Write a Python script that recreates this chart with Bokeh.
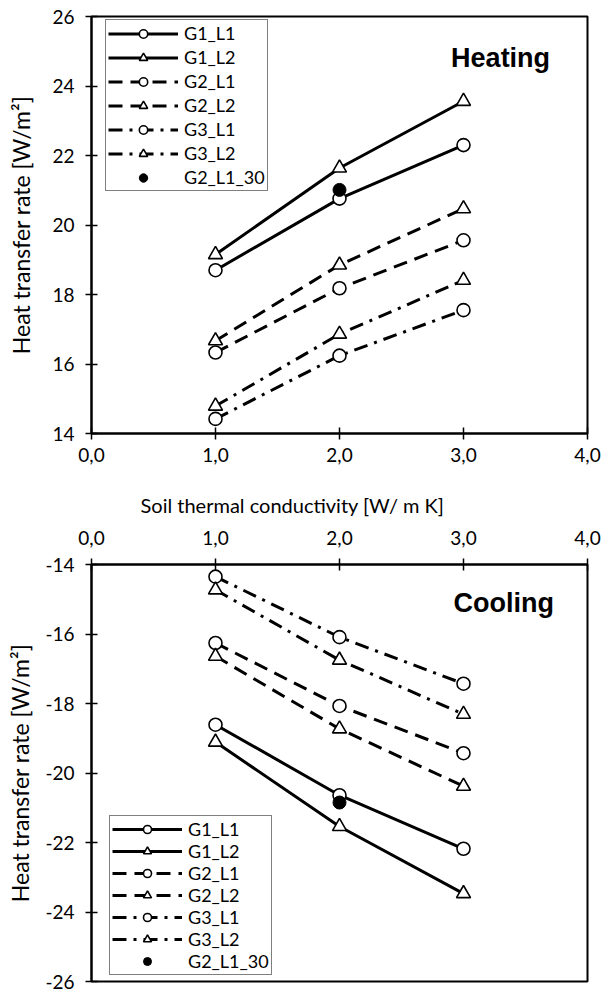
from bokeh.plotting import figure
from bokeh.layouts import column
from bokeh.models import FixedTicker, Legend, LegendItem, Label, Title
from bokeh.embed import file_html
from bokeh.resources import INLINE

# Soil thermal conductivity [W/ m K]
conductivity = [1.0, 2.0, 3.0]

# Heat transfer rate in heating mode [W/m2]
heat_g1_l1 = [18.70, 20.76, 22.30]
heat_g1_l2 = [19.15, 21.64, 23.56]
heat_g2_l1 = [16.33, 18.18, 19.56]
heat_g2_l2 = [16.67, 18.85, 20.47]
heat_g3_l1 = [14.42, 16.24, 17.55]
heat_g3_l2 = [14.79, 16.86, 18.41]
heat_g2_l1_30_x = [2.0]
heat_g2_l1_30 = [21.01]

# Heat transfer rate in cooling mode [W/m2]
cool_g1_l1 = [-18.61, -20.64, -22.18]
cool_g1_l2 = [-19.11, -21.54, -23.47]
cool_g2_l1 = [-16.26, -18.07, -19.43]
cool_g2_l2 = [-16.64, -18.73, -20.38]
cool_g3_l1 = [-14.35, -16.09, -17.43]
cool_g3_l2 = [-14.73, -16.75, -18.31]
cool_g2_l1_30_x = [2.0]
cool_g2_l1_30 = [-20.85]

x_ticks = [0, 1, 2, 3, 4]
x_tick_labels = ["0,0", "1,0", "2,0", "3,0", "4,0"]
heat_y_ticks = [14, 16, 18, 20, 22, 24, 26]
heat_y_tick_labels = ["14", "16", "18", "20", "22", "24", "26"]
cool_y_ticks = [-26, -24, -22, -20, -18, -16, -14]
cool_y_tick_labels = ["-26", "-24", "-22", "-20", "-18", "-16", "-14"]

series_names = ["G1_L1", "G1_L2", "G2_L1", "G2_L2", "G3_L1", "G3_L2"]
series_markers = ["circle", "triangle", "circle", "triangle", "circle", "triangle"]
series_dash = ["solid", "solid", "14 8", "14 8", "14 7 3 7", "14 7 3 7"]

FONT = "Lato"
TICK_SIZE = "19px"
YLABEL_SIZE = "23px"


def style_axes(p, y_ticks, y_labels, y_label_standoff, x_label_standoff):
    for ax in (p.xaxis[0], p.yaxis[0]):
        ax.axis_line_width = 2
        ax.axis_line_color = "black"
        ax.major_tick_line_width = 1.5
        ax.major_tick_in = 6
        ax.major_tick_out = 6
        ax.minor_tick_line_color = None
        ax.major_label_text_font = FONT
        ax.major_label_text_font_size = TICK_SIZE
        ax.major_label_text_color = "black"
        ax.axis_label_text_font = FONT
        ax.axis_label_text_font_size = YLABEL_SIZE
        ax.axis_label_text_font_style = "normal"
        ax.axis_label_text_color = "black"
    p.xaxis[0].ticker = FixedTicker(ticks=x_ticks)
    p.xaxis[0].major_label_overrides = dict(zip(x_ticks, x_tick_labels))
    p.xaxis[0].major_label_standoff = x_label_standoff
    p.yaxis[0].ticker = FixedTicker(ticks=y_ticks)
    p.yaxis[0].major_label_overrides = dict(zip(y_ticks, y_labels))
    p.yaxis[0].major_label_standoff = 11
    p.yaxis[0].axis_label_standoff = y_label_standoff
    p.xgrid.grid_line_color = None
    p.ygrid.grid_line_color = None
    p.outline_line_color = "black"
    p.outline_line_width = 2
    p.background_fill_color = "white"
    p.border_fill_color = "white"


def draw_series(p, ys, extra_x, extra_y):
    items = []
    line_rs = []
    for y, dash in zip(ys, series_dash):
        line_rs.append(p.line(conductivity, y, line_color="black", line_width=3,
                              line_dash=dash))
    for name, y, marker, lr in zip(series_names, ys, series_markers, line_rs):
        sr = p.scatter(conductivity, y, marker=marker,
                       size=14 if marker == "triangle" else 13,
                       fill_color="white", line_color="black", line_width=1.6)
        items.append(LegendItem(label=name, renderers=[lr, sr]))
    fr = p.scatter(extra_x, extra_y, marker="circle", size=13,
                   fill_color="black", line_color="black")
    items.append(LegendItem(label="G2_L1_30", renderers=[fr]))
    return items


def make_legend(items, location, row_h, spacing):
    return Legend(
        items=items, location=location,
        label_text_font=FONT, label_text_font_size="18px",
        label_text_color="black",
        glyph_width=70, glyph_height=row_h, label_height=row_h,
        label_standoff=6, spacing=spacing, padding=2, margin=0,
        border_line_color="black", border_line_width=1.5,
        background_fill_color="white", background_fill_alpha=1.0,
    )


# Heating
p1 = figure(width=613, height=478, x_range=(0, 4), y_range=(14, 26),
            output_backend="svg", toolbar_location=None,
            min_border_left=91, min_border_right=26,
            min_border_top=16, min_border_bottom=45)
p1.yaxis.axis_label = "Heat transfer rate [W/m²]"
style_axes(p1, heat_y_ticks, heat_y_tick_labels, 14, 8)

heat_items = draw_series(
    p1, [heat_g1_l1, heat_g1_l2, heat_g2_l1, heat_g2_l2, heat_g3_l1, heat_g3_l2],
    heat_g2_l1_30_x, heat_g2_l1_30)
p1.add_layout(make_legend(heat_items, (14, 242), 21, 2))
p1.add_layout(Label(x=2.9, y=24.8, text="Heating", text_font="Liberation Sans",
                    text_font_size="27px", text_font_style="bold",
                    text_baseline="middle", text_align="left", text_color="black"))

# Cooling
p2 = figure(width=613, height=515, x_range=(0, 4), y_range=(-26, -14),
            output_backend="svg", toolbar_location=None,
            x_axis_location="above",
            min_border_left=91, min_border_right=26,
            min_border_top=86, min_border_bottom=12)
p2.yaxis.axis_label = "Heat transfer rate [W/m²]"
style_axes(p2, cool_y_ticks, cool_y_tick_labels, 8, 14)
# shared x-axis title between the two panels
p2.add_layout(Title(text="Soil thermal conductivity [W/ m K]", align="left",
                    offset=49, standoff=21, text_font=FONT,
                    text_font_size="20px", text_font_style="normal",
                    text_color="black"), "above")

cool_items = draw_series(
    p2, [cool_g1_l1, cool_g1_l2, cool_g2_l1, cool_g2_l2, cool_g3_l1, cool_g3_l2],
    cool_g2_l1_30_x, cool_g2_l1_30)
p2.add_layout(make_legend(cool_items, (18, 6), 20, 0))
p2.add_layout(Label(x=2.92, y=-15.11, text="Cooling", text_font="Liberation Sans",
                    text_font_size="27px", text_font_style="bold",
                    text_baseline="middle", text_align="left", text_color="black"))

layout = column(p1, p2, spacing=0)
open("out.html", "w").write(file_html(layout, INLINE))
